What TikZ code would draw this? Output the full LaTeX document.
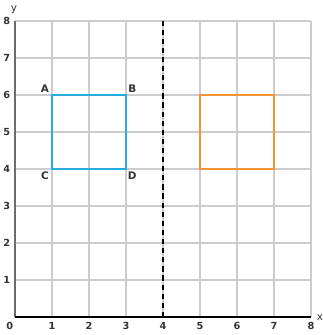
\documentclass[tikz,border=0pt]{standalone}
\usepackage{fontspec}
\setmainfont{DejaVu Sans}
\definecolor{gridgray}{HTML}{CCCCCC}
\definecolor{axisgray}{HTML}{6B6B6B}
\definecolor{sqblue}{HTML}{29ABE2}
\definecolor{sqorange}{HTML}{F39237}
\definecolor{labelgray}{HTML}{333333}
\begin{document}
\begin{tikzpicture}[x=1cm,y=1cm,
  ticklab/.style={font=\fontsize{7.5}{9}\selectfont\bfseries, text=labelgray, inner sep=0pt},
  axlab/.style={font=\fontsize{8}{9}\selectfont, text=labelgray, inner sep=0pt},
  ptlab/.style={font=\fontsize{8}{9}\selectfont\bfseries, text=labelgray, inner sep=0pt},
  sq/.style={line width=1.5pt}
]
\useasboundingbox (-0.405,-0.486) rectangle (8.324,8.568);
\draw[gridgray, line width=0.9pt] (0,0) grid (8,8);
\draw[axisgray, line width=1.4pt] (0,0) -- (0,8);
\draw[black, line width=1.1pt] (0,0) -- (8,0);
\draw[black, line width=1pt, dash pattern=on 4pt off 3pt] (4,0) -- (4,8);
\foreach \i in {1,...,8} {
  \node[ticklab] (xt\i) at (\i,-0.25) {\i};
  \node[ticklab] (yt\i) at (-0.22,\i) {\i};
}
\node[ticklab] (o) at (-0.14,-0.25) {0};
\node[axlab] (xl) at (8.24,-0.02) {x};
\node[axlab] (yl) at (-0.03,8.3) {y};
\coordinate (A) at (1,6);
\coordinate (B) at (3,6);
\coordinate (C) at (1,4);
\coordinate (D) at (3,4);
\draw[sqblue, sq] (A) rectangle (D);
\coordinate (E) at (5,6);
\coordinate (F) at (7,4);
\draw[sqorange, sq] (E) rectangle (F);
\node[ptlab] (la) at (0.81,6.17) {A};
\node[ptlab] (lb) at (3.17,6.17) {B};
\node[ptlab] (lc) at (0.81,3.83) {C};
\node[ptlab] (ld) at (3.17,3.83) {D};
\end{tikzpicture}
\end{document}
